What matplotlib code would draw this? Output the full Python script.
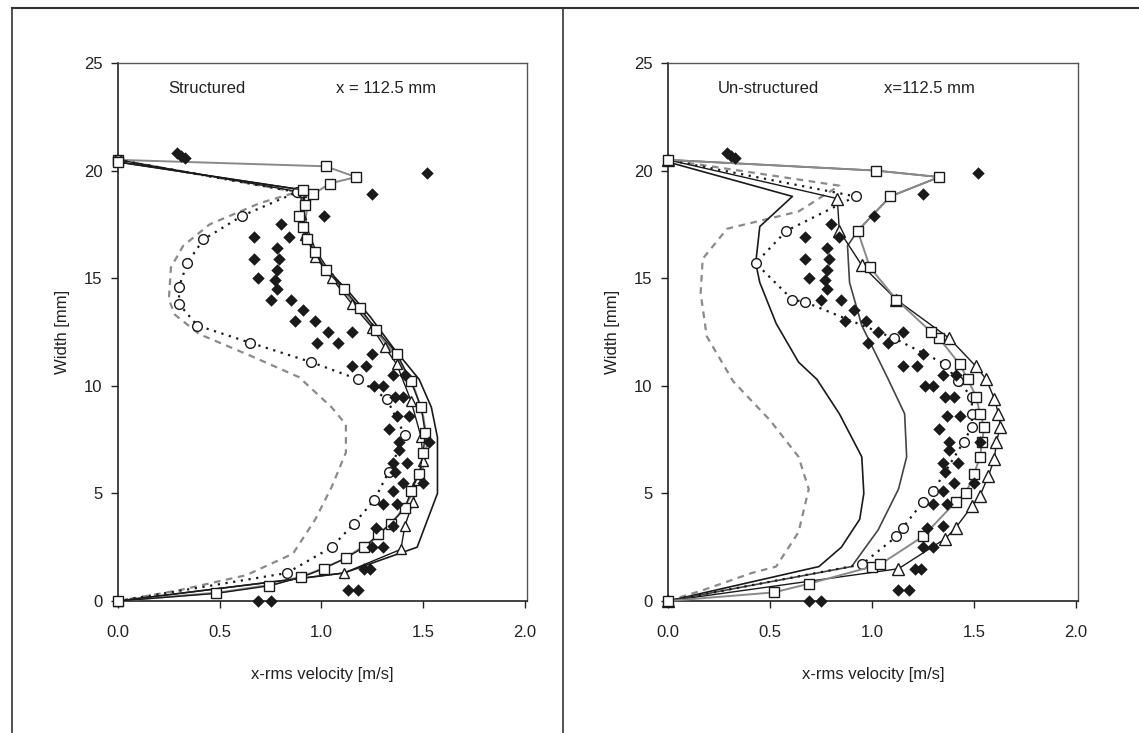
import numpy as np
import matplotlib.pyplot as plt
from matplotlib.lines import Line2D

plt.rcParams['font.family'] = ['Liberation Sans', 'DejaVu Sans']

# experimental data (filled diamonds), same probe positions in both panels
exp_v = [0.29, 0.31, 0.33, 1.52, 1.25, 1.01, 0.80, 0.84, 0.67, 0.78, 0.67, 0.79, 0.78, 0.69, 0.77,
         0.78, 0.75, 0.85, 0.91, 0.87, 0.97, 1.03, 1.15, 0.98, 1.08, 1.25, 1.15, 1.22, 1.26, 1.30,
         1.35, 1.41, 1.36, 1.40, 1.37, 1.43, 1.33, 1.38, 1.53, 1.38, 1.35, 1.42, 1.36, 1.40, 1.50,
         1.35, 1.37, 1.30, 1.35, 1.27, 1.30, 1.25, 1.21, 1.24, 1.13, 1.18, 0.69, 0.75]
exp_w = [20.8, 20.7, 20.6, 19.9, 18.9, 17.9, 17.5, 16.9, 16.9, 16.4, 15.9, 15.9, 15.4, 15.0, 14.9,
         14.5, 14.0, 14.0, 13.5, 13.0, 13.0, 12.5, 12.5, 12.0, 12.0, 11.5, 10.9, 10.9, 10.0, 10.0,
         10.5, 10.5, 9.5, 9.5, 8.6, 8.6, 8.0, 7.4, 7.4, 7.0, 6.4, 6.4, 6.0, 5.5, 5.5,
         5.1, 4.5, 4.5, 3.5, 3.4, 2.5, 2.5, 1.5, 1.5, 0.5, 0.5, 0.0, 0.0]

# ---- structured channel ----
s_sq_v = [0, 0.48, 0.74, 0.90, 1.01, 1.12, 1.21, 1.28, 1.34, 1.41, 1.44, 1.48, 1.50, 1.51,
          1.49, 1.44, 1.37, 1.27, 1.19, 1.11, 1.02, 0.97, 0.93, 0.91, 0.89, 0.92, 0.91, 0]
s_sq_w = [0, 0.35, 0.7, 1.1, 1.5, 2.0, 2.5, 3.1, 3.6, 4.3, 5.1, 5.9, 6.9, 7.8,
          9.0, 10.2, 11.5, 12.6, 13.6, 14.5, 15.4, 16.2, 16.8, 17.4, 17.9, 18.4, 19.1, 20.4]
s_sq2_v = [0, 0.50, 0.78, 0.95, 1.10, 1.25, 1.37, 1.45, 1.50, 1.52, 1.50, 1.46, 1.38, 1.28,
           1.20, 1.12, 1.04, 0.98, 0.94, 0.92, 0.93, 0.96, 1.04, 1.17, 1.02, 0]
s_sq2_w = [0, 0.4, 0.8, 1.3, 1.9, 2.8, 3.9, 5.0, 6.2, 7.4, 8.6, 9.8, 11.2, 12.4,
           13.4, 14.3, 15.2, 16.0, 16.8, 17.6, 18.3, 18.9, 19.4, 19.7, 20.2, 20.5]
s_tri_v = [0, 1.11, 1.39, 1.41, 1.45, 1.47, 1.50, 1.49, 1.44, 1.37, 1.31, 1.25, 1.15, 1.05,
           0.97, 0.92, 0.90, 0.90, 0]
s_tri_w = [0, 1.3, 2.4, 3.5, 4.6, 5.6, 6.5, 7.6, 9.3, 11.0, 11.8, 12.7, 13.8, 15.0,
           16.0, 17.0, 18.0, 19.0, 20.5]
s_out_v = [0, 1.11, 1.47, 1.57, 1.57, 1.54, 1.48, 1.35, 1.24, 1.14, 1.04, 0.97, 0.93, 0.91, 0.91, 0]
s_out_w = [0, 1.3, 2.5, 5.0, 7.6, 9.0, 10.3, 11.8, 13.2, 14.3, 15.3, 16.3, 17.3, 18.3, 19.1, 20.4]
s_circ_v = [0, 0.83, 1.05, 1.16, 1.26, 1.33, 1.41, 1.32, 1.18, 0.95, 0.65, 0.39, 0.30, 0.30,
            0.34, 0.42, 0.61, 0.88, 0]
s_circ_w = [0, 1.3, 2.5, 3.6, 4.7, 6.0, 7.7, 9.4, 10.3, 11.1, 12.0, 12.8, 13.8, 14.6,
            15.7, 16.8, 17.9, 19.0, 20.5]
s_dash_v = [0, 0.30, 0.63, 0.86, 0.97, 1.05, 1.12, 1.12, 1.05, 0.89, 0.65, 0.40, 0.28, 0.25,
            0.26, 0.32, 0.45, 0.70, 0.88, 0]
s_dash_w = [0, 0.5, 1.2, 2.2, 3.8, 5.3, 6.9, 8.2, 9.0, 10.4, 11.4, 12.4, 13.3, 14.0,
            15.5, 16.5, 17.5, 18.5, 19.0, 20.5]

# ---- un-structured channel ----
u_sq_v = [0, 0.52, 0.69, 1.00, 1.04, 1.25, 1.41, 1.46, 1.50, 1.53, 1.54, 1.55, 1.53, 1.51,
          1.47, 1.43, 1.33, 1.29, 1.12, 0.99, 0.93, 1.09, 1.33, 1.02, 0]
u_sq_w = [0, 0.4, 0.8, 1.6, 1.7, 3.0, 4.6, 5.0, 5.9, 6.7, 7.4, 8.1, 8.7, 9.5,
          10.3, 11.0, 12.2, 12.5, 14.0, 15.5, 17.2, 18.8, 19.7, 20.0, 20.5]
u_tri_v = [0, 1.13, 1.36, 1.41, 1.49, 1.53, 1.57, 1.60, 1.61, 1.63, 1.62, 1.60, 1.56, 1.51,
           1.38, 1.12, 0.95, 0.84, 0.83, 0]
u_tri_w = [0, 1.5, 2.9, 3.4, 4.4, 4.9, 5.8, 6.6, 7.4, 8.1, 8.7, 9.4, 10.3, 10.9,
           12.2, 14.0, 15.6, 17.2, 18.7, 20.5]
u_circ_v = [0, 0.95, 1.12, 1.15, 1.25, 1.30, 1.45, 1.49, 1.49, 1.49, 1.42, 1.36, 1.11, 0.67,
            0.61, 0.43, 0.58, 0.92, 0]
u_circ_w = [0, 1.7, 3.0, 3.4, 4.6, 5.1, 7.4, 8.1, 8.7, 9.5, 10.2, 11.0, 12.2, 13.9,
            14.0, 15.7, 17.2, 18.8, 20.5]
u_dash_v = [0, 0.17, 0.41, 0.53, 0.64, 0.69, 0.64, 0.50, 0.32, 0.19, 0.16, 0.17, 0.29, 0.64, 0.84, 0]
u_dash_w = [0, 0.5, 1.3, 1.6, 3.2, 5.2, 6.7, 8.4, 10.2, 12.3, 14.3, 15.9, 17.3, 18.1, 19.3, 20.5]
u_sol1_v = [0, 0.37, 0.74, 0.85, 0.94, 0.96, 0.95, 0.84, 0.73, 0.64, 0.53, 0.45, 0.43, 0.45, 0.61, 0]
u_sol1_w = [0, 0.8, 1.6, 2.5, 3.8, 5.0, 6.7, 8.7, 10.3, 11.1, 12.9, 14.8, 15.7, 17.4, 18.8, 20.4]
u_sol2_v = [0, 0.90, 1.03, 1.13, 1.17, 1.16, 1.08, 0.95, 0.89, 0.88, 0.93, 1.09, 1.33, 1.02, 0]
u_sol2_w = [0, 1.6, 3.3, 5.2, 6.7, 8.7, 10.3, 12.8, 14.8, 16.5, 17.2, 18.8, 19.7, 20.0, 20.5]

x_ticks = [0.0, 0.5, 1.0, 1.5, 2.0]
y_ticks = [0, 5, 10, 15, 20, 25]

dark = '#1a1a1a'
grey = '#8a8a8a'

fig = plt.figure(figsize=(11.39, 7.33), dpi=100)
ax1 = fig.add_axes([118 / 1139, 132 / 733, 409 / 1139, 538 / 733])
ax2 = fig.add_axes([668 / 1139, 132 / 733, 410 / 1139, 538 / 733])

open_kw = dict(markerfacecolor='white', markeredgecolor=dark, markeredgewidth=1.0, clip_on=False)

# structured
ax1.plot(s_dash_v, s_dash_w, color=grey, lw=1.6, ls=(0, (3, 2.5)), zorder=2)
ax1.plot(s_out_v, s_out_w, color=dark, lw=1.2, zorder=2)
ax1.plot(s_sq2_v, s_sq2_w, color=grey, lw=1.4, marker='s', ms=7.5,
         markevery=[21, 22, 23, 24, 25], zorder=3, **open_kw)
ax1.plot(s_tri_v, s_tri_w, color=dark, lw=1.0, marker='^', ms=7.5, zorder=3, **open_kw)
ax1.plot(s_circ_v, s_circ_w, color=dark, lw=1.6, ls=(0, (1, 2.5)), marker='o', ms=7, zorder=3, **open_kw)
ax1.plot(s_sq_v, s_sq_w, color=dark, lw=1.0, marker='s', ms=7.5, zorder=4, **open_kw)

# un-structured
ax2.plot(u_dash_v, u_dash_w, color=grey, lw=1.6, ls=(0, (3, 2.5)), zorder=2)
ax2.plot(u_sol1_v, u_sol1_w, color=dark, lw=1.2, zorder=2)
ax2.plot(u_sol2_v, u_sol2_w, color='#444444', lw=1.2, zorder=2)
ax2.plot(u_circ_v, u_circ_w, color=dark, lw=1.6, ls=(0, (1, 2.5)), marker='o', ms=7, zorder=3, **open_kw)
ax2.plot(u_tri_v, u_tri_w, color=dark, lw=1.0, marker='^', ms=8, zorder=3, **open_kw)
ax2.plot(u_sq_v, u_sq_w, color=grey, lw=1.4, marker='s', ms=7.5, zorder=4, **open_kw)

for ax, title, pos in [(ax1, 'Structured', 'x = 112.5 mm'), (ax2, 'Un-structured', 'x=112.5 mm')]:
    ax.scatter(exp_v, exp_w, marker='D', s=40, color=dark, zorder=5, clip_on=False, linewidths=0)
    ax.set_xlim(0, 2.01)
    ax.set_ylim(0, 25)
    ax.set_xticks(x_ticks)
    ax.set_xticklabels([f'{t:.1f}' for t in x_ticks])
    ax.set_yticks(y_ticks)
    ax.tick_params(direction='out', length=5, width=1, labelsize=12, colors='#222222', pad=12)
    ax.tick_params(axis='y', pad=6)
    ax.set_xlabel('x-rms velocity [m/s]', fontsize=12, color='#222222', labelpad=20)
    ax.set_ylabel('Width [mm]', fontsize=12, color='#222222', labelpad=10)
    for sp in ['left', 'bottom']:
        ax.spines[sp].set_color('#222222')
        ax.spines[sp].set_linewidth(1.2)
    for sp in ['top', 'right']:
        ax.spines[sp].set_color('#555555')
        ax.spines[sp].set_linewidth(1.0)
    ax.text(0.245, 23.8, title, fontsize=12, color='#222222', va='center')
    ax.text(1.07 if ax is ax1 else 1.06, 23.8, pos, fontsize=12, color='#222222', va='center')

# outer frame of the two panels
fig.add_artist(Line2D([12 / 1139, 12 / 1139], [0, 725 / 733], color='#333333', lw=1.2))
fig.add_artist(Line2D([563 / 1139, 563 / 1139], [0, 725 / 733], color='#333333', lw=1.2))
fig.add_artist(Line2D([12 / 1139, 1], [725 / 733, 725 / 733], color='#333333', lw=1.5))

fig.savefig('out.png', dpi=100)
